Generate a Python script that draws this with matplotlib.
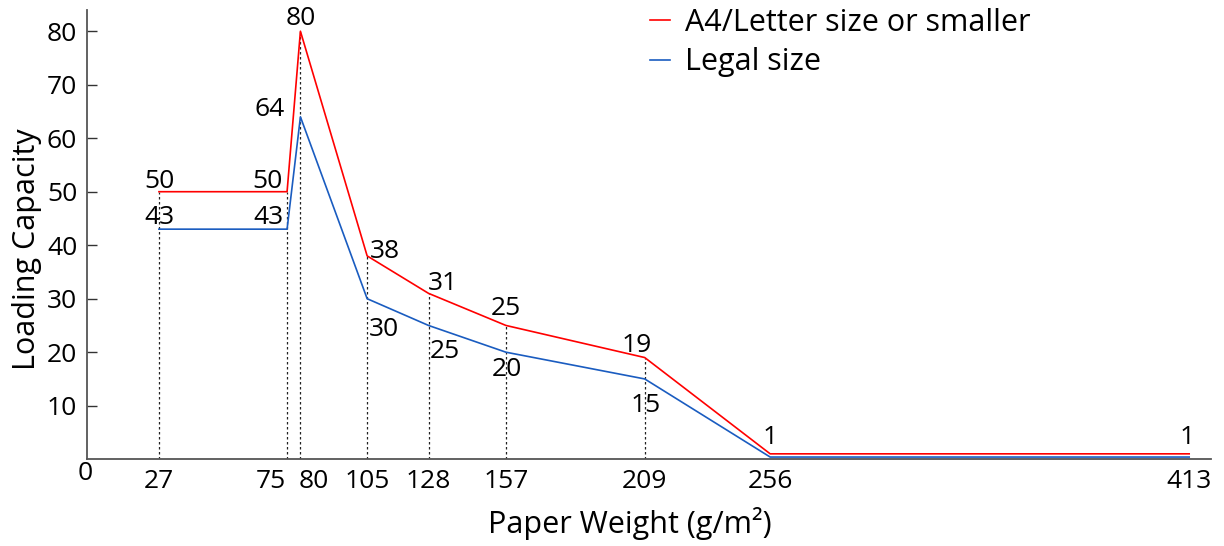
import matplotlib.pyplot as plt
from matplotlib.transforms import ScaledTranslation

weights = [27, 75, 80, 105, 128, 157, 209, 256, 413]
letter = [50, 50, 80, 38, 31, 25, 19, 1, 1]
legal = [43, 43, 64, 30, 25, 20, 15, 0.4, 0.4]
xticks = [27, 75, 80, 105, 128, 157, 209, 256, 413]
yticks = [10, 20, 30, 40, 50, 60, 70, 80]

plt.rcParams['font.family'] = ['Open Sans', 'DejaVu Sans']

fig = plt.figure(figsize=(12.24, 5.46), dpi=100)
ax = fig.add_axes([0.071, 0.159, 0.918, 0.823])

ax.plot(weights, letter, color='#ff0000', lw=1.2, label='A4/Letter size or smaller')
ax.plot(weights, legal, color='#1a5cc0', lw=1.2, label='Legal size')

# dotted guides from the axis up to the red line
for w, v in zip(weights[:7], letter[:7]):
    ax.plot([w, w], [0, v], color='#222222', lw=0.9, ls=(0, (2, 2)), zorder=1)

fs = 19
# pixel offsets of the value labels (dx, dy, ha), baseline aligned
red_off = [(0, 4, 'center'), (-5, 4, 'right'), (0, 6, 'center'), (3, -2, 'left'),
           (-1, 3, 'left'), (0, 10, 'center'), (-8, 6, 'center'), (0, 10, 'center'),
           (-2, 10, 'center')]
for w, v, (dx, dy, ha) in zip(weights, letter, red_off):
    ax.annotate(str(v), (w, v), xytext=(dx, dy), textcoords='offset pixels',
                ha=ha, va='baseline', fontsize=fs)

blue_off = [(0, 5, 'center'), (-4, 5, 'right'), (-16, 1, 'right'),
            (2, -37, 'left'), (1, -33, 'left'), (1, -24, 'center'),
            (1, -33, 'center')]
for w, v, (dx, dy, ha) in zip(weights[:7], legal[:7], blue_off):
    ax.annotate(str(v), (w, v), xytext=(dx, dy), textcoords='offset pixels',
                ha=ha, va='baseline', fontsize=fs)

ax.annotate('0', (0, 0), xytext=(-2, -2), textcoords='offset pixels',
            ha='center', va='top', fontsize=fs, annotation_clip=False)

ax.set_xlim(0, 421)
ax.set_ylim(0, 84)
ax.set_xticks(xticks)
ax.set_xticklabels([str(t) for t in xticks], fontsize=fs)
ax.set_yticks(yticks)
ax.set_yticklabels([str(t) for t in yticks], fontsize=fs)
ax.tick_params(axis='x', length=0, pad=7)
ax.tick_params(axis='y', direction='in', length=7, width=1, color='#333333', pad=7)

# nudge the crowded 75 / 80 labels apart
for lab, dx in zip(ax.get_xticklabels()[1:3], [-16, 13]):
    lab.set_transform(lab.get_transform() + ScaledTranslation(dx / 100, 0, fig.dpi_scale_trans))

for s in ['top', 'right']:
    ax.spines[s].set_visible(False)
for s in ['left', 'bottom']:
    ax.spines[s].set_color('#555555')
    ax.spines[s].set_linewidth(1.3)

ax.set_xlabel('Paper Weight (g/m²)', fontsize=22, va='center')
ax.set_ylabel('Loading Capacity', fontsize=22, va='center')
ax.xaxis.set_label_coords(0.483, -0.143)
ax.yaxis.set_label_coords(-0.053, 0.468)

ax.legend(loc='upper left', bbox_to_anchor=(0.531, 0.985), bbox_transform=fig.transFigure,
          frameon=False, fontsize=22, handlelength=0.65, handletextpad=0.5,
          labelspacing=0.3, borderpad=0, borderaxespad=0)

fig.savefig('out.png', dpi=100)
